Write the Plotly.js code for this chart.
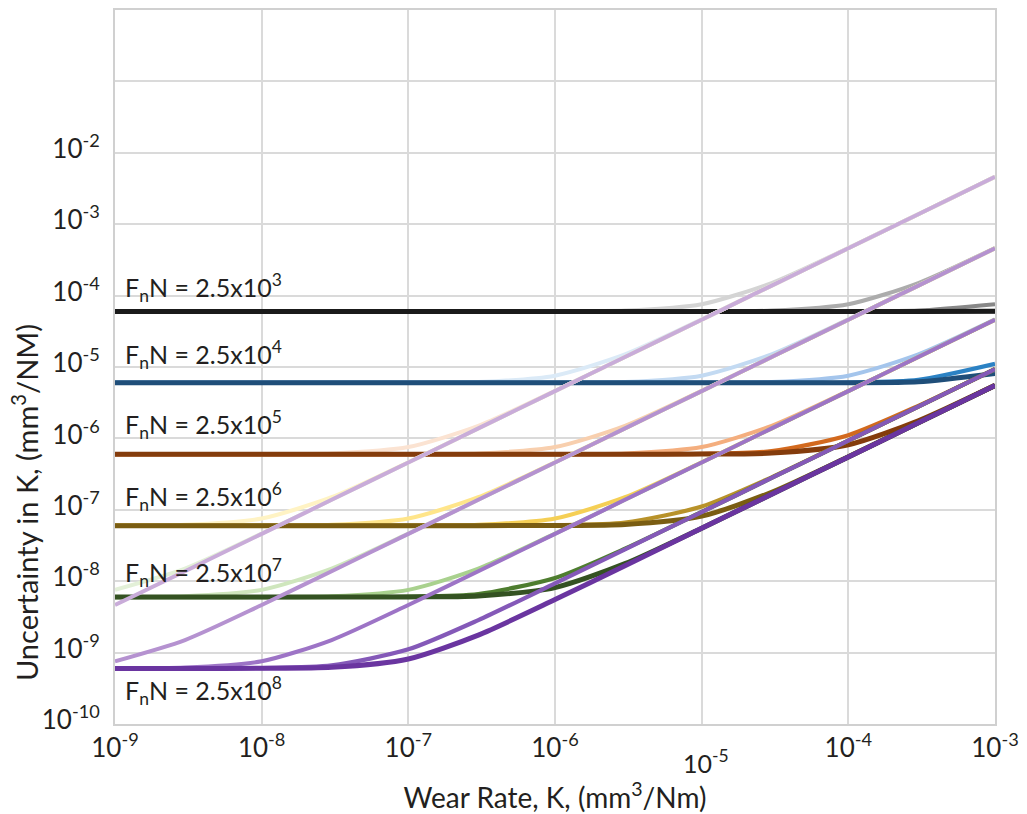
<!DOCTYPE html>
<html>
<head>
<meta charset="utf-8">
<script src="https://cdn.plot.ly/plotly-3.0.1.min.js"></script>
<style>html,body{margin:0;padding:0;background:#fff;}#chart{width:1027px;height:814px;}</style>
</head>
<body>
<div id="chart"></div>
<script>
// Wear rate K (mm^3/Nm)
const K = [1e-9,3e-9,1e-8,3e-8,1e-7,3e-7,1e-6,3e-6,1e-5,3e-5,1e-4,3e-4,1e-3];

// F_n N = 2.5x10^3 (greys)
const g3A = [6e-5,6e-5,6e-5,6e-5,6e-5,6e-5,6.02e-5,6.16e-5,7.56e-5,1.5e-4,4.64e-4,1.38e-3,4.6e-3];
const g3B = [6e-5,6e-5,6e-5,6e-5,6e-5,6e-5,6e-5,6e-5,6.02e-5,6.16e-5,7.56e-5,1.5e-4,4.64e-4];
const g3C = [6e-5,6e-5,6e-5,6e-5,6e-5,6e-5,6e-5,6e-5,6e-5,6e-5,6.02e-5,6.16e-5,7.56e-5];
const g3D = [6e-5,6e-5,6e-5,6e-5,6e-5,6e-5,6e-5,6e-5,6e-5,6e-5,6e-5,6.01e-5,6.07e-5];
const g3E = [6e-5,6e-5,6e-5,6e-5,6e-5,6e-5,6e-5,6e-5,6e-5,6e-5,6e-5,6e-5,6.03e-5];

// F_n N = 2.5x10^4 (blues)
const b4A = [6e-6,6e-6,6e-6,6e-6,6.02e-6,6.16e-6,7.56e-6,1.5e-5,4.64e-5,1.38e-4,4.6e-4,1.38e-3,4.6e-3];
const b4B = [6e-6,6e-6,6e-6,6e-6,6e-6,6e-6,6.02e-6,6.16e-6,7.56e-6,1.5e-5,4.64e-5,1.38e-4,4.6e-4];
const b4C = [6e-6,6e-6,6e-6,6e-6,6e-6,6e-6,6e-6,6e-6,6.02e-6,6.16e-6,7.56e-6,1.5e-5,4.64e-5];
const b4D = [6e-6,6e-6,6e-6,6e-6,6e-6,6e-6,6e-6,6e-6,6e-6,6.01e-6,6.07e-6,6.62e-6,1.11e-5];
const b4E = [6e-6,6e-6,6e-6,6e-6,6e-6,6e-6,6e-6,6e-6,6e-6,6e-6,6.03e-6,6.22e-6,8.14e-6];

// F_n N = 2.5x10^5 (oranges)
const o5A = [6e-7,6e-7,6.02e-7,6.16e-7,7.56e-7,1.5e-6,4.64e-6,1.38e-5,4.6e-5,1.38e-4,4.6e-4,1.38e-3,4.6e-3];
const o5B = [6e-7,6e-7,6e-7,6e-7,6.02e-7,6.16e-7,7.56e-7,1.5e-6,4.64e-6,1.38e-5,4.6e-5,1.38e-4,4.6e-4];
const o5C = [6e-7,6e-7,6e-7,6e-7,6e-7,6e-7,6.02e-7,6.16e-7,7.56e-7,1.5e-6,4.64e-6,1.38e-5,4.6e-5];
const o5D = [6e-7,6e-7,6e-7,6e-7,6e-7,6e-7,6e-7,6.01e-7,6.07e-7,6.62e-7,1.11e-6,2.85e-6,9.32e-6];
const o5E = [6e-7,6e-7,6e-7,6e-7,6e-7,6e-7,6e-7,6e-7,6.03e-7,6.22e-7,8.14e-7,1.76e-6,5.53e-6];

// F_n N = 2.5x10^6 (yellows)
const y6A = [6.02e-8,6.16e-8,7.56e-8,1.5e-7,4.64e-7,1.38e-6,4.6e-6,1.38e-5,4.6e-5,1.38e-4,4.6e-4,1.38e-3,4.6e-3];
const y6B = [6e-8,6e-8,6.02e-8,6.16e-8,7.56e-8,1.5e-7,4.64e-7,1.38e-6,4.6e-6,1.38e-5,4.6e-5,1.38e-4,4.6e-4];
const y6C = [6e-8,6e-8,6e-8,6e-8,6.02e-8,6.16e-8,7.56e-8,1.5e-7,4.64e-7,1.38e-6,4.6e-6,1.38e-5,4.6e-5];
const y6D = [6e-8,6e-8,6e-8,6e-8,6e-8,6.01e-8,6.07e-8,6.62e-8,1.11e-7,2.85e-7,9.32e-7,2.79e-6,9.3e-6];
const y6E = [6e-8,6e-8,6e-8,6e-8,6e-8,6e-8,6.03e-8,6.22e-8,8.14e-8,1.76e-7,5.53e-7,1.65e-6,5.5e-6];

// F_n N = 2.5x10^7 (greens)
const gr7A = [7.56e-9,1.5e-8,4.64e-8,1.38e-7,4.6e-7,1.38e-6,4.6e-6,1.38e-5,4.6e-5,1.38e-4,4.6e-4,1.38e-3,4.6e-3];
const gr7B = [6.02e-9,6.16e-9,7.56e-9,1.5e-8,4.64e-8,1.38e-7,4.6e-7,1.38e-6,4.6e-6,1.38e-5,4.6e-5,1.38e-4,4.6e-4];
const gr7C = [6e-9,6e-9,6.02e-9,6.16e-9,7.56e-9,1.5e-8,4.64e-8,1.38e-7,4.6e-7,1.38e-6,4.6e-6,1.38e-5,4.6e-5];
const gr7D = [6e-9,6e-9,6e-9,6.01e-9,6.07e-9,6.62e-9,1.11e-8,2.85e-8,9.32e-8,2.79e-7,9.3e-7,2.79e-6,9.3e-6];
const gr7E = [6e-9,6e-9,6e-9,6e-9,6.03e-9,6.22e-9,8.14e-9,1.76e-8,5.53e-8,1.65e-7,5.5e-7,1.65e-6,5.5e-6];

// F_n N = 2.5x10^8 (purples)
const p8A = [4.64e-9,1.38e-8,4.6e-8,1.38e-7,4.6e-7,1.38e-6,4.6e-6,1.38e-5,4.6e-5,1.38e-4,4.6e-4,1.38e-3,4.6e-3];
const p8B = [7.56e-10,1.5e-9,4.64e-9,1.38e-8,4.6e-8,1.38e-7,4.6e-7,1.38e-6,4.6e-6,1.38e-5,4.6e-5,1.38e-4,4.6e-4];
const p8C = [6.02e-10,6.16e-10,7.56e-10,1.5e-9,4.64e-9,1.38e-8,4.6e-8,1.38e-7,4.6e-7,1.38e-6,4.6e-6,1.38e-5,4.6e-5];
const p8D = [6e-10,6e-10,6.07e-10,6.62e-10,1.11e-9,2.85e-9,9.32e-9,2.79e-8,9.3e-8,2.79e-7,9.3e-7,2.79e-6,9.3e-6];
const p8E = [6e-10,6e-10,6.03e-10,6.22e-10,8.14e-10,1.76e-9,5.53e-9,1.65e-8,5.5e-8,1.65e-7,5.5e-7,1.65e-6,5.5e-6];

// Labels
const groupLabels = ['F<sub>n</sub>N = 2.5x10<sup>3</sup>','F<sub>n</sub>N = 2.5x10<sup>4</sup>','F<sub>n</sub>N = 2.5x10<sup>5</sup>','F<sub>n</sub>N = 2.5x10<sup>6</sup>','F<sub>n</sub>N = 2.5x10<sup>7</sup>','F<sub>n</sub>N = 2.5x10<sup>8</sup>'];
const xTickVals = [1e-9,1e-8,1e-7,1e-6,1e-5,1e-4,1e-3];
const xTickText = ['10<sup>-9</sup>','10<sup>-8</sup>','10<sup>-7</sup>','10<sup>-6</sup>','','10<sup>-4</sup>','10<sup>-3</sup>'];
const yTickVals = [1e-10,1e-9,1e-8,1e-7,1e-6,1e-5,1e-4,1e-3,1e-2,1e-1,1];
const yTickText = ['10<sup>-10</sup>','10<sup>-9</sup>','10<sup>-8</sup>','10<sup>-7</sup>','10<sup>-6</sup>','10<sup>-5</sup>','10<sup>-4</sup>','10<sup>-3</sup>','10<sup>-2</sup>',' ',' '];

const FONT = 'Lato, "Open Sans", sans-serif';
const TXT = '#231f20';

const groups = [
  {ys:[g3A,g3B,g3C,g3D,g3E], cols:['#d4d4d4','#acacac','#888888','#4a4a4a','#1a1a1a']},
  {ys:[b4A,b4B,b4C,b4D,b4E], cols:['#dbeaf7','#c3daf2','#a4c5ec','#2b82c4','#1f4e79']},
  {ys:[o5A,o5B,o5C,o5D,o5E], cols:['#fbe3d2','#f8cfae','#f4ae7e','#d2691e','#843c0c']},
  {ys:[y6A,y6B,y6C,y6D,y6E], cols:['#fff3c4','#ffe58a','#f5cf55','#b8922a','#7a5d12']},
  {ys:[gr7A,gr7B,gr7C,gr7D,gr7E], cols:['#e3f0d8','#cfe6bd','#a9d18e','#4e7d2f','#345222']},
  {ys:[p8A,p8B,p8C,p8D,p8E], cols:['#c9acd9','#b592d0','#9d74c6','#8459b8','#6a35a0']}
];
const widths = [4,4,4,4.2,5];

const traces = [];
groups.forEach(function(g){
  g.ys.forEach(function(y,j){
    traces.push({x:K, y:y, type:'scatter', mode:'lines',
      line:{color:g.cols[j], width:widths[j], shape:'spline', smoothing:0.7},
      hoverinfo:'skip', showlegend:false});
  });
});

const labelY = [0.612,0.517,0.419,0.318,0.2115,0.0476];
const annotations = groupLabels.map(function(t,i){
  return {text:t, xref:'paper', yref:'paper', x:0.009, y:labelY[i], xanchor:'left', yanchor:'middle',
    showarrow:false, font:{family:FONT, size:25, color:TXT}};
});
annotations.push({text:'10<sup>-5</sup>', xref:'x', yref:'paper', x:-4.97, y:-0.053, xanchor:'center', yanchor:'middle',
  showarrow:false, font:{family:FONT, size:25, color:TXT}});
annotations.push({text:'Uncertainty in K, (mm<sup>3</sup>/NM)', xref:'paper', yref:'paper', x:-0.103, y:0.31,
  xanchor:'center', yanchor:'middle', textangle:-90, showarrow:false, font:{family:FONT, size:29, color:TXT}});

const layout = {
  width:1027, height:814,
  margin:{l:115, r:32, t:10, b:90},
  paper_bgcolor:'#ffffff', plot_bgcolor:'#ffffff',
  showlegend:false,
  font:{family:FONT, color:TXT},
  xaxis:{type:'log', range:[-9,-3], tickvals:xTickVals, ticktext:xTickText, ticks:'',
    showgrid:true, gridcolor:'#dadada', gridwidth:2, zeroline:false,
    showline:true, mirror:true, linecolor:'#d0d0d0', linewidth:2,
    tickfont:{family:FONT, size:26, color:TXT},
    title:{text:'Wear Rate, K, (mm<sup>3</sup>/Nm)', font:{family:FONT, size:28, color:TXT}, standoff:26},
    automargin:false},
  yaxis:{type:'log', range:[-10,0], tickvals:yTickVals, ticktext:yTickText, ticks:'',
    showgrid:true, gridcolor:'#dadada', gridwidth:2, zeroline:false,
    showline:true, mirror:true, linecolor:'#d0d0d0', linewidth:2,
    tickfont:{family:FONT, size:26, color:TXT}, ticklabelstandoff:8, ticklabelshift:-4,
    automargin:false},
  annotations:annotations
};

Plotly.newPlot('chart', traces, layout, {displayModeBar:false, staticPlot:true});
</script>
</body>
</html>
